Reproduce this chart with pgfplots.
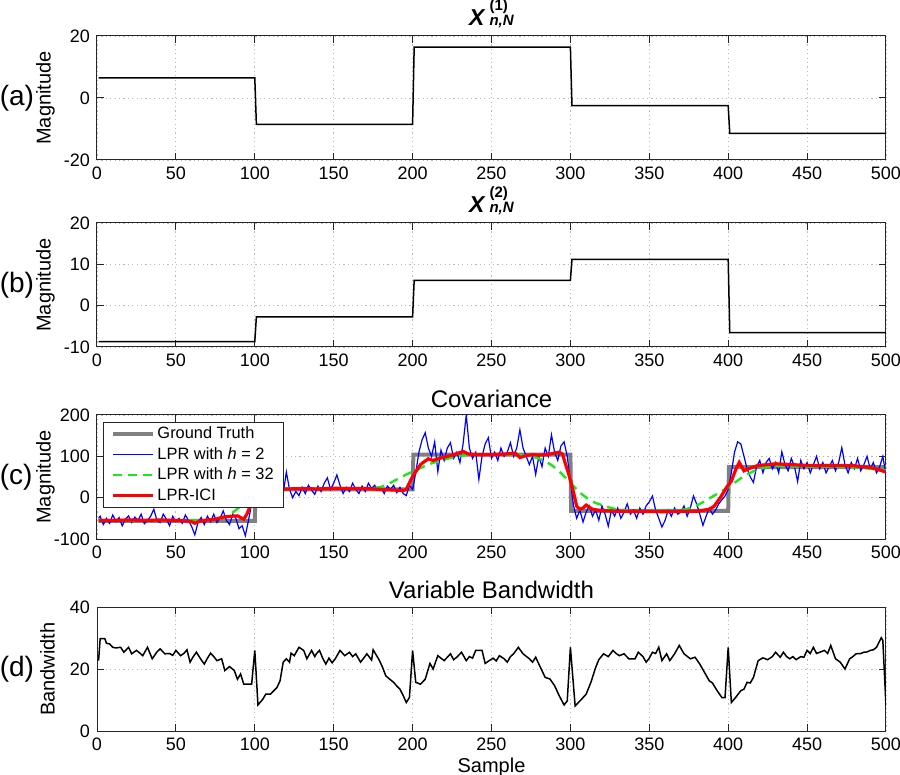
\documentclass[border=0pt]{standalone}
\usepackage{fontspec}
\setmainfont{Liberation Sans}
\usepackage{pgfplots}
\pgfplotsset{compat=1.18}
\definecolor{gtgray}{RGB}{128,128,128}
\definecolor{lblue}{RGB}{0,0,255}
\definecolor{lgreen}{RGB}{30,230,30}
\definecolor{lred}{RGB}{255,0,0}
\newcommand{\Xtitle}[1]{{\fontsize{11.5}{12}\selectfont\bfseries\itshape X}\hspace{2.5pt}\rlap{\raisebox{7.5pt}{\fontsize{7.5}{8}\selectfont\bfseries (#1)}}{\fontsize{7.5}{8}\selectfont\bfseries\itshape n,N}}
\pgfplotsset{
 every axis title/.style={at={(0.5,1)}, anchor=base, inner sep=0pt, yshift=4.5pt, font=\fontsize{12}{14}\selectfont},
 mystyle/.style={
   scale only axis, width=394.5pt, height=62pt,
   xmin=0, xmax=500, xtick={0,50,...,500},
   grid=major, major grid style={gray!55, dash pattern=on 0.6pt off 1.6pt, line width=0.4pt},
   axis line style={black!85, line width=0.5pt},
   tick style={black!85, line width=0.5pt},
   major tick length=3.5pt, tick align=inside,
   tick label style={font=\fontsize{9}{10}\selectfont},
   /pgf/number format/assume math mode=true,
   label style={font=\fontsize{10}{12}\selectfont},
   ylabel style={at={(axis description cs:-0.053,0.5)}, anchor=south, inner sep=0pt},
   anchor=north west,
 }
}
\begin{document}
\begin{tikzpicture}
\path[use as bounding box] (-48.5pt,18pt) rectangle (401.5pt,-369.5pt);
% (a)
\begin{axis}[mystyle, at={(0pt,0pt)}, ymin=-20, ymax=20, ytick={-20,0,20}, ylabel={Magnitude}, title={\Xtitle{1}}, title style={yshift=0.5pt}]
\addplot[black, line width=0.75pt] coordinates {(1,6.5)(100,6.5)(101,-8.5)(200,-8.5)(201,16.4)(300,16.4)(301,-2.5)(400,-2.5)(401,-11.4)(500,-11.4)};
\end{axis}
% (b)
\begin{axis}[mystyle, at={(0pt,-93.5pt)}, ymin=-10, ymax=20, ytick={-10,0,10,20}, ylabel={Magnitude}, title={\Xtitle{2}}, title style={yshift=0.5pt}]
\addplot[black, line width=0.75pt] coordinates {(1,-8.7)(100,-8.7)(101,-2.7)(200,-2.7)(201,6.1)(300,6.1)(301,11.2)(400,11.2)(401,-6.5)(500,-6.5)};
\end{axis}
% (c)
\begin{axis}[mystyle, at={(0pt,-189.5pt)}, ymin=-100, ymax=200, ytick={-100,0,100,200}, ylabel={Magnitude}, title={Covariance}, title style={yshift=-1pt},
  legend style={at={(axis description cs:0,1)}, anchor=north west, xshift=3pt, yshift=-3.5pt, draw=black!85, line width=0.5pt, fill=white, inner xsep=3.75pt, inner ysep=1.95pt, row sep=2.2pt, font=\fontsize{8.2}{9}\selectfont, nodes={inner xsep=1.25pt, inner ysep=0pt, text height=6.2pt, text depth=1.8pt}},
  legend cell align=left,
  legend image code/.code={\draw[#1, line cap=butt] (0pt,0pt) -- (20pt,0pt);}]
\addplot[gtgray, line width=2pt] coordinates {(1,-56)(100,-56)(100.5,20)(200,20)(200.5,104)(300,104)(300.5,-32)(400,-32)(400.5,74)(500,74)};
\addlegendentry{Ground Truth}
\addplot[lblue, line width=0.6pt] coordinates {
(1,-50)(2,-45)(4,-65)(6,-50)(8,-62)(10,-42)(12,-58)(14,-48)(16,-68)(18,-52)(20,-44)(22,-60)(24,-47)(26,-55)(28,-40)(30,-63)(32,-55)(34,-45)(36,-28)(38,-55)(40,-60)(42,-40)(44,-52)(46,-68)(48,-45)(50,-58)(52,-50)(54,-62)(56,-42)(58,-55)(60,-70)(62,-90)(64,-60)(66,-48)(68,-65)(70,-45)(72,-58)(74,-40)(76,-60)(78,-50)(80,-32)(82,-55)(84,-65)(86,-40)(88,-50)(90,-75)(92,-68)(94,-92)(96,-55)(98,-15)(100,-10)
(102,10)(104,35)(106,20)(108,5)(110,30)(112,15)(114,40)(116,25)(118,10)(120,62)(122,20)(124,0)(126,15)(128,5)(130,25)(132,10)(134,30)(136,18)(138,8)(140,28)(142,15)(144,35)(146,48)(148,20)(150,35)(152,55)(154,30)(156,10)(158,25)(160,15)(162,35)(164,20)(166,10)(168,28)(170,15)(172,35)(174,22)(176,30)(178,18)(180,25)(182,10)(184,28)(186,20)(188,30)(190,12)(192,25)(194,10)(196,5)(198,30)(200,20)
(202,60)(204,110)(206,140)(208,157)(210,120)(212,100)(214,135)(216,63)(218,115)(220,90)(222,120)(224,133)(226,95)(228,110)(230,85)(232,130)(234,200)(236,120)(238,95)(240,110)(242,44)(244,100)(246,130)(248,145)(250,95)(252,110)(254,90)(256,120)(258,100)(260,110)(262,133)(264,100)(266,120)(268,164)(270,120)(272,100)(274,80)(276,100)(278,56)(280,100)(282,75)(284,120)(286,100)(288,152)(290,110)(292,90)(294,125)(296,135)(298,100)(300,40)
(302,-20)(304,-50)(306,-30)(308,-59)(310,-35)(312,-20)(314,-45)(316,-30)(318,-55)(320,-20)(322,-40)(324,-69)(326,-30)(328,-45)(330,-25)(332,-50)(334,-35)(336,-15)(338,-40)(340,-30)(342,-50)(344,-25)(346,-40)(348,-20)(350,-10)(352,4)(354,-30)(356,-50)(358,-71)(360,-55)(362,-30)(364,-45)(366,-25)(368,-40)(370,-35)(372,-20)(374,-45)(376,-25)(378,4)(380,-15)(382,-40)(384,-67)(386,-45)(388,-25)(390,-40)(392,-30)(394,-15)(396,-5)(398,4)(400,20)
(402,60)(404,110)(406,135)(408,130)(410,100)(412,70)(414,50)(416,37)(418,75)(420,90)(422,60)(424,85)(426,95)(428,70)(430,85)(432,60)(434,111)(436,80)(438,65)(440,95)(442,75)(444,39)(446,90)(448,70)(450,85)(452,60)(454,80)(456,100)(458,70)(460,85)(462,60)(464,75)(466,90)(468,65)(470,85)(472,121)(474,80)(476,60)(478,85)(480,70)(482,95)(484,65)(486,80)(488,100)(490,70)(492,85)(494,60)(496,75)(498,100)(500,55)};
\addlegendentry{LPR with \textit{h} = 2}
\addplot[lgreen, line width=1.2pt, dash pattern=on 4.5pt off 3pt] coordinates {
(1,-55)(20,-55)(40,-55)(60,-55)(70,-54)(75,-52)(80,-48)(84,-42)(88,-30)(92,-18)(96,-6)(100,3)(104,10)(108,14)(112,17)(116,19)(120,21)(130,22)(140,22)(150,22)(160,22)(170,22)(175,23)(180,26)(184,32)(188,40)(192,48)(196,56)(200,63)(204,70)(208,77)(212,83)(216,88)(220,92)(224,96)(228,99)(232,102)(236,104)(240,105)(250,105)(260,105)(268,104)(272,102)(276,99)(280,95)(284,88)(288,79)(292,67)(296,52)(300,36)(304,20)(308,6)(312,-5)(316,-13)(320,-18)(324,-23)(328,-27)(332,-29)(336,-31)(340,-32)(350,-32)(360,-32)(368,-31)(372,-29)(376,-25)(380,-19)(384,-11)(388,-2)(392,7)(396,16)(400,25)(404,36)(408,47)(412,56)(416,64)(420,70)(424,74)(428,76)(432,76)(440,76)(450,75)(460,75)(470,74)(480,73)(490,70)(500,66)};
\addlegendentry{LPR with \textit{h} = 32}
\addplot[lred, line width=1.6pt] coordinates {
(1,-55)(10,-55)(20,-54)(30,-55)(40,-54)(50,-55)(55,-56)(60,-58)(62,-62)(65,-57)(70,-54)(75,-52)(80,-47)(85,-45)(89,-44)(91,-48)(93,-52)(95,-40)(97,-21)(99,5)(101,18)(103,22)(110,22)(120,21)(130,22)(140,21)(150,23)(160,22)(170,22)(180,20)(190,18)(194,17)(196,20)(199,44)(202,63)(205,80)(207,86)(210,94)(213,90)(217,95)(221,99)(226,104)(230,109)(232,112)(235,106)(240,104)(250,104)(255,105)(260,106)(265,108)(268,97)(272,102)(276,104)(280,103)(285,104)(290,108)(293,110)(295,105)(297,80)(299,56)(302,13)(304,-21)(306,-28)(308,-25)(310,-18)(314,-28)(319,-31)(330,-33)(340,-33)(360,-34)(370,-33)(380,-33)(385,-30)(388,-28)(391,-21)(395,0)(399,25)(402,40)(405,70)(407,85)(410,65)(413,70)(415,73)(419,78)(425,80)(430,82)(440,80)(450,78)(460,78)(470,78)(480,77)(490,73)(495,68)(500,62)};
\addlegendentry{LPR-ICI}
\end{axis}
% (d)
\begin{axis}[mystyle, at={(0pt,-285.5pt)}, ymin=0, ymax=40, ytick={0,20,40}, ylabel={Bandwidth}, title={Variable Bandwidth}, xlabel={Sample}, xlabel style={at={(axis description cs:0.5,-0.218)}, anchor=north, inner sep=0pt}]
\addplot[black, line width=0.75pt] coordinates {
(1,22.7)(2,29.8)(5,29.8)(6,28.3)(8,28.1)(10,27)(12,26.8)(15,27)(17,25.4)(20,27)(22,24.9)(25,26)(27,25.2)(29,24.3)(32,27)(35,23.3)(38,25.5)(40,26.5)(43,24.9)(46,25)(48,24.4)(50,26)(53,24.3)(55,25)(57,26.2)(59,22.2)(61,24)(63,25.4)(66,23)(68,21.6)(70,23.5)(72,25.1)(74,24)(76,22.7)(79,23.3)(81,19.5)(84,20.8)(87,19.5)(89,16.7)(91,18.4)(93,15.1)(95,15.1)(98,15.1)(100,26)(102,8.4)(105,10.2)(107,11.9)(110,11.9)(112,13)(114,14)(116,16.2)(118,22.2)(120,23.3)(122,22.2)(123,25.1)(125,24.3)(128,27)(131,26)(133,23.3)(136,26)(138,24)(139,24.9)(141,26)(143,23.5)(145,21.6)(147,23.5)(149,22)(151,23.3)(154,26)(157,24.3)(160,25.4)(162,24)(164,24.9)(167,22.2)(169,23.5)(171,24.9)(174,22.9)(175,26.2)(177,24.5)(179,22.7)(181,20.5)(183,17.8)(186,16.5)(188,15.7)(190,14.5)(192,13.5)(194,11.5)(196,9.2)(198,10.8)(200,26)(202,15.7)(205,15.1)(208,16.7)(211,21.8)(213,20)(216,24.3)(218,23.5)(220,22.7)(224,24.9)(226,23)(228,23.8)(231,25.4)(234,22.7)(236,24)(238,23.5)(240,26)(244,26)(246,21.8)(248,22.5)(251,23.5)(253,22.6)(255,24.3)(258,23.3)(260,22.2)(262,24)(264,24.9)(267,27)(270,24.9)(274,23.3)(276,22.2)(278,23.8)(280,21.6)(284,17.3)(287,16.8)(290,14.6)(293,11.3)(296,8.4)(298,9.7)(300,27)(303,8.1)(307,10.2)(310,11.9)(313,15.7)(316,20.5)(318,23)(321,24.9)(324,24)(327,26)(329,25)(331,24.3)(334,24.9)(337,23.3)(341,23.3)(343,25.4)(346,24)(348,22.2)(350,23.5)(352,25.4)(354,25)(356,27)(358,22.7)(361,24.9)(363,22.7)(366,24.9)(369,27.6)(372,24.9)(376,23.3)(379,23.8)(382,21.6)(385,18.9)(388,16.2)(390,15.5)(393,13)(396,10.8)(398,10.8)(400,27)(402,9.2)(405,11)(408,13)(410,13.5)(412,15.7)(414,15.5)(416,17.3)(419,22.7)(422,23.6)(425,23)(428,24)(430,25.4)(433,23.8)(435,25.4)(437,24)(439,23.3)(441,24)(443,23)(446,24)(448,23.8)(450,26)(452,25)(454,27)(456,25)(458,25.4)(461,26)(463,25)(465,27.6)(468,23.3)(471,22.2)(474,20)(477,23.3)(479,24)(481,24.9)(484,25)(486,25.4)(488,25.5)(490,26)(492,26.2)(494,27)(497,30.1)(498,29.2)(500,8.1)};
\end{axis}
\node[anchor=west, inner sep=0pt, font=\fontsize{14}{16}\selectfont] at (-48.8pt,-31pt) {(a)};
\node[anchor=west, inner sep=0pt, font=\fontsize{14}{16}\selectfont] at (-48.8pt,-124.5pt) {(b)};
\node[anchor=west, inner sep=0pt, font=\fontsize{14}{16}\selectfont] at (-48.8pt,-220.5pt) {(c)};
\node[anchor=west, inner sep=0pt, font=\fontsize{14}{16}\selectfont] at (-48.8pt,-316.5pt) {(d)};
\end{tikzpicture}
\end{document}
